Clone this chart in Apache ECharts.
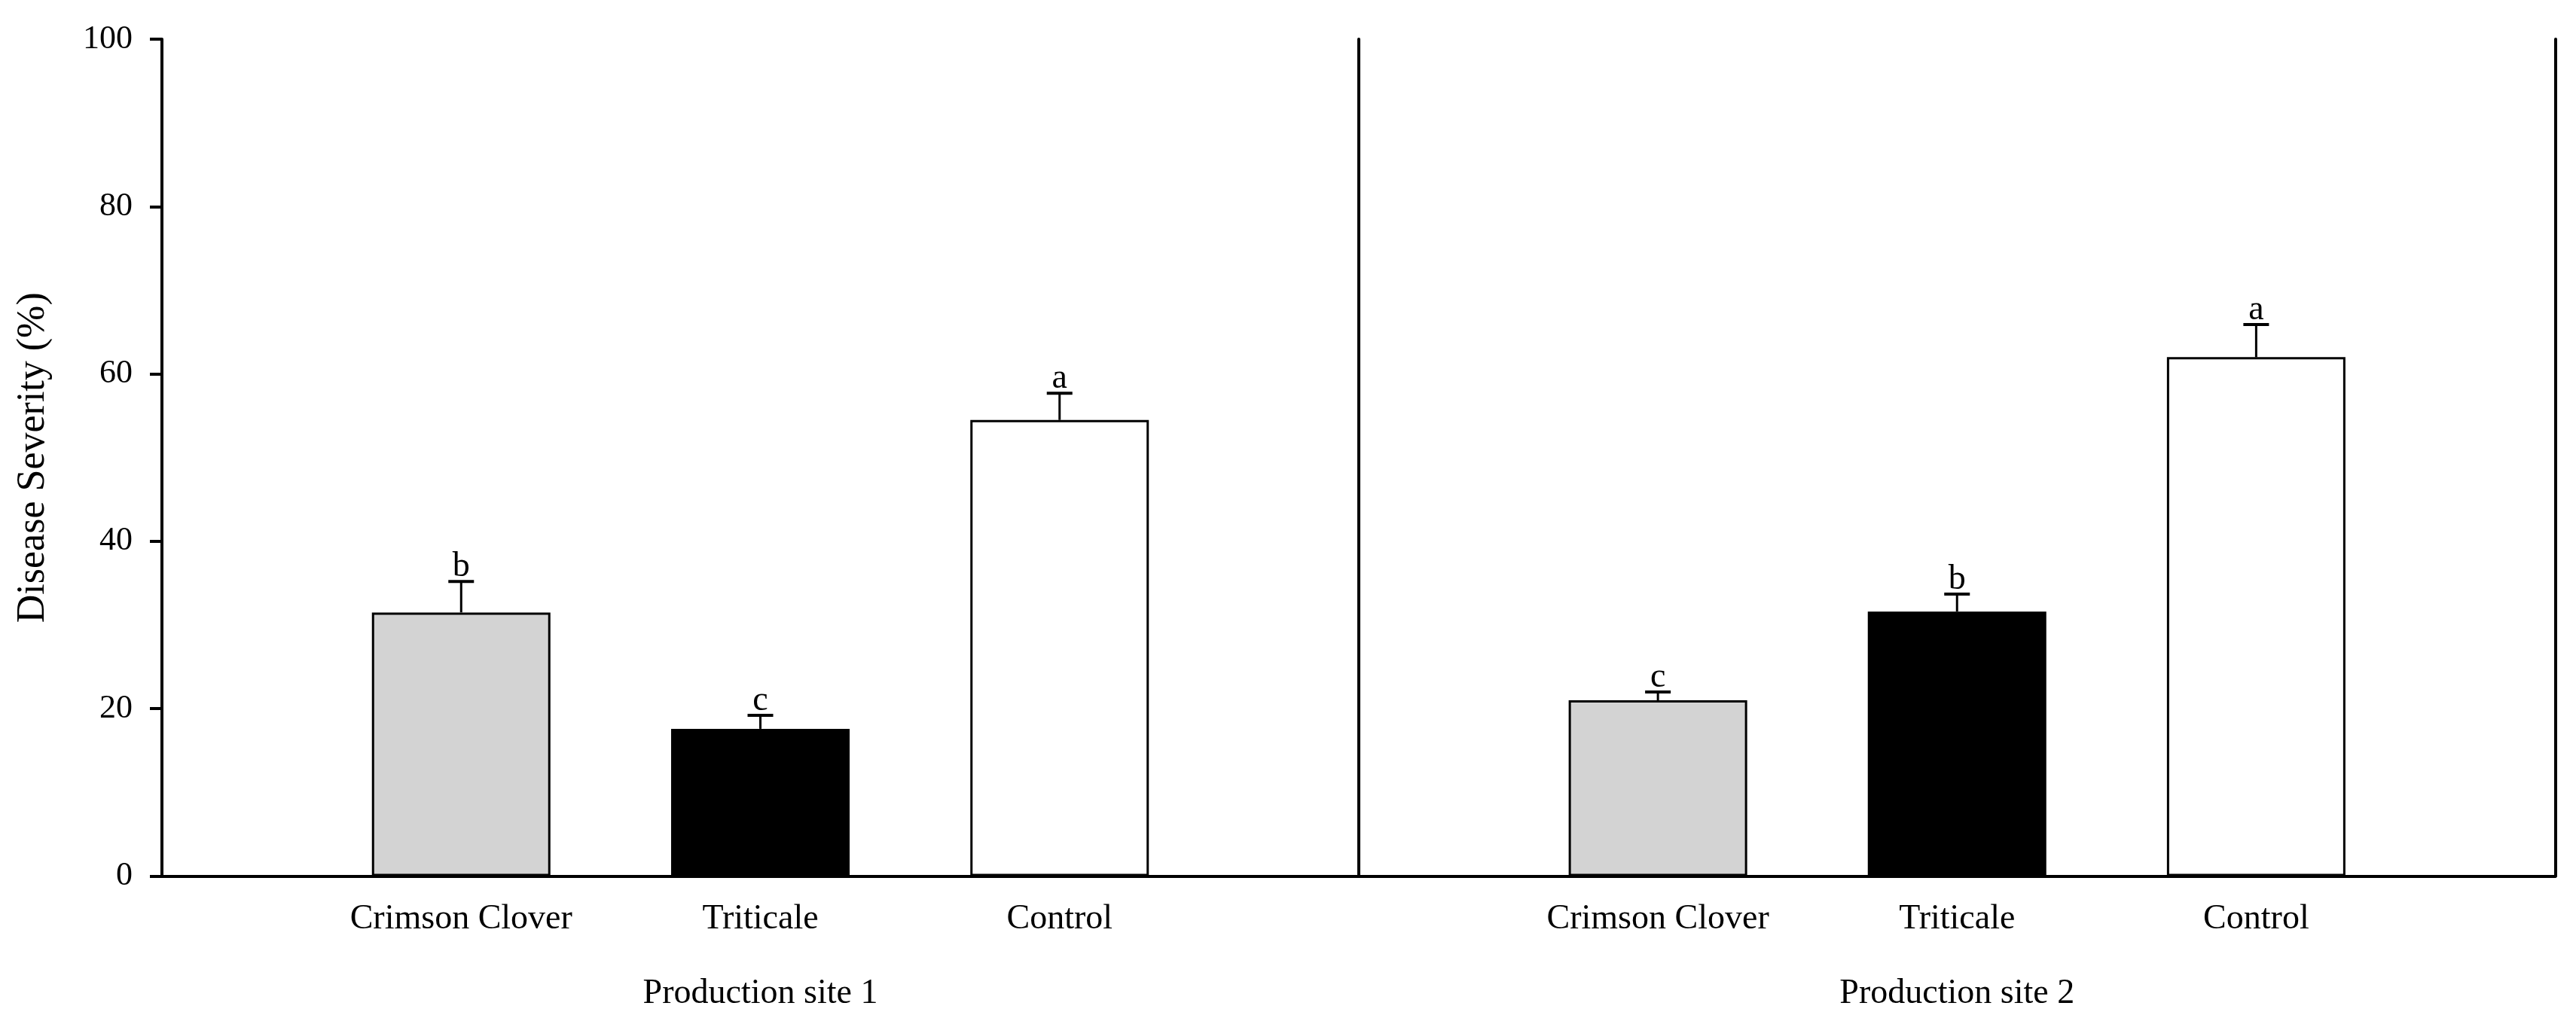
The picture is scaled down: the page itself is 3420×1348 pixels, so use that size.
<!DOCTYPE html>
<html><head><meta charset="utf-8">
<script src="https://cdn.jsdelivr.net/npm/echarts@6/dist/echarts.min.js"></script>
<style>html,body{margin:0;padding:0;background:#fff}#c{width:3420px;height:1348px}</style>
</head><body><div id="c"></div>
<script>
// ---- data ----
const categories = ['', 'Crimson Clover', 'Triticale', 'Control', ''];
const siteNames = ['Production site 1', 'Production site 2'];
const site1Mean = [31.5, 17.6, 54.5];
const site1Err = [3.7, 1.6, 3.2];
const site1Letters = ['b', 'c', 'a'];
const site2Mean = [21.0, 31.6, 62.0];
const site2Err = [1.0, 2.1, 3.9];
const site2Letters = ['c', 'b', 'a'];
const yMin = 0, yMax = 100, yStep = 20;
const yTitle = 'Disease Severity (%)';

// ---- style ----
const FONT = 'Liberation Serif';
const barFills = ['#d3d3d3', '#000000', '#ffffff'];

function barData(means) {
  const out = ['-'];
  means.forEach((v, i) => out.push({ value: v, itemStyle: { color: barFills[i] } }));
  out.push('-');
  return out;
}
function errData(means, errs) {
  return means.map((v, i) => [i + 1, v, errs[i]]);
}
function makeErrRender(letters) {
  return function (params, api) {
    const idx = api.value(0), m = api.value(1), e = api.value(2);
    const base = api.coord([idx, m]);
    const top = api.coord([idx, m + e]);
    return {
      type: 'group',
      children: [
        { type: 'line', shape: { x1: base[0], y1: base[1], x2: top[0], y2: top[1] },
          style: { stroke: '#000', lineWidth: 3 } },
        { type: 'line', shape: { x1: top[0] - 17, y1: top[1], x2: top[0] + 17, y2: top[1] },
          style: { stroke: '#000', lineWidth: 4 } },
        { type: 'text', x: top[0], y: top[1] + 4,
          style: { text: letters[params.dataIndex], fill: '#000', font: '46px "' + FONT + '"',
                   align: 'center', verticalAlign: 'bottom' } }
      ]
    };
  };
}

const axisLineStyle = { color: '#000', width: 4 };

function xAxisFor(gi) {
  return {
    type: 'category', gridIndex: gi, data: categories, boundaryGap: false,
    axisLine: { show: true, lineStyle: axisLineStyle },
    axisTick: { show: false },
    axisLabel: { interval: 0, color: '#000', fontFamily: FONT, fontSize: 46, margin: 34 },
    splitLine: { show: false },
    name: siteNames[gi], nameLocation: 'middle', nameGap: 133,
    nameTextStyle: { color: '#000', fontFamily: FONT, fontSize: 46 }
  };
}

const option = {
  backgroundColor: '#fff',
  animation: false,
  grid: [
    { left: 215, right: 3420 - 1804, top: 52, bottom: 184.5 },
    { left: 1804, right: 3420 - 3392.5, top: 52, bottom: 184.5 }
  ],
  xAxis: [xAxisFor(0), xAxisFor(1)],
  yAxis: [
    { type: 'value', gridIndex: 0, min: yMin, max: yMax, interval: yStep,
      axisLine: { show: true, lineStyle: axisLineStyle },
      axisTick: { show: true, length: 16, lineStyle: { color: '#000', width: 4 } },
      axisLabel: { color: '#000', fontFamily: FONT, fontSize: 44, margin: 39 },
      splitLine: { show: false },
      name: yTitle, nameLocation: 'middle', nameRotate: 90, nameGap: 145,
      nameTextStyle: { color: '#000', fontFamily: FONT, fontSize: 52 } },
    { type: 'value', gridIndex: 1, min: yMin, max: yMax, interval: yStep, position: 'left',
      axisLine: { show: true, lineStyle: axisLineStyle },
      axisTick: { show: false }, axisLabel: { show: false }, splitLine: { show: false } },
    { type: 'value', gridIndex: 1, min: yMin, max: yMax, interval: yStep, position: 'right',
      axisLine: { show: true, lineStyle: axisLineStyle },
      axisTick: { show: false }, axisLabel: { show: false }, splitLine: { show: false } }
  ],
  series: [
    { type: 'bar', xAxisIndex: 0, yAxisIndex: 0, data: barData(site1Mean), barWidth: 237,
      itemStyle: { borderColor: '#000', borderWidth: 3 } },
    { type: 'bar', xAxisIndex: 1, yAxisIndex: 1, data: barData(site2Mean), barWidth: 237,
      itemStyle: { borderColor: '#000', borderWidth: 3 } },
    { type: 'custom', xAxisIndex: 0, yAxisIndex: 0, data: errData(site1Mean, site1Err),
      renderItem: makeErrRender(site1Letters), z: 5 },
    { type: 'custom', xAxisIndex: 1, yAxisIndex: 1, data: errData(site2Mean, site2Err),
      renderItem: makeErrRender(site2Letters), z: 5 }
  ]
};
const chart = echarts.init(document.getElementById('c'), null, { renderer: 'canvas' });
chart.setOption(option);
</script></body></html>
